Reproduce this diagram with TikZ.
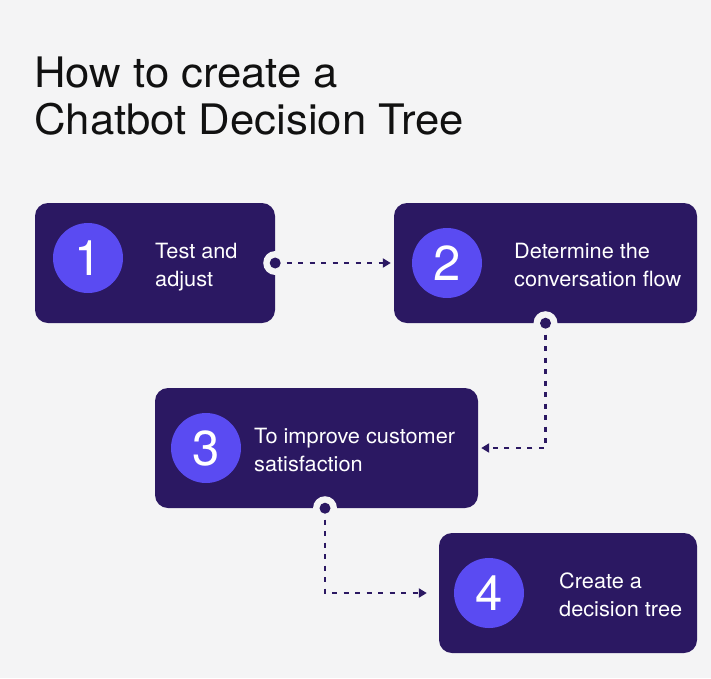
\documentclass[tikz,border=0pt]{standalone}
\usepackage{fontspec}
\setmainfont{TeX Gyre Heros}
\newfontfamily\titlefont[FakeStretch=1.04]{TeX Gyre Heros}
\newfontfamily\bodyfont[FakeStretch=1.035]{TeX Gyre Heros}
\usetikzlibrary{arrows.meta,calc}
\definecolor{bg}{HTML}{F4F4F5}
\definecolor{boxc}{HTML}{2B1862}
\definecolor{circc}{HTML}{5A4BF2}
\definecolor{titlec}{HTML}{111111}
\tikzset{
  stepbox/.style={draw=none,fill=boxc,rounded corners=13pt,minimum height=120pt,inner sep=0pt},
  numcirc/.style={circle,fill=circc,minimum size=70pt,inner sep=0pt,text=white,font=\fontsize{49}{49}\selectfont},
  steptext/.style={anchor=base west,align=left,text=white,inner sep=0pt,font=\bodyfont\fontsize{21}{28}\selectfont},
  ring/.style={circle,fill=bg,minimum size=24pt,inner sep=0pt},
  dotc/.style={circle,fill=boxc,minimum size=11pt,inner sep=0pt},
  conn/.style={draw=boxc,line width=2.4pt,dash pattern=on 5pt off 6.5pt,-{Triangle[length=8pt,width=9pt]}}
}
\begin{document}
\begin{tikzpicture}[x=1pt,y=-1pt]
\fill[bg] (0,0) rectangle (711,678);
\useasboundingbox (0,0) rectangle (711,678);
\node[anchor=base west,align=left,inner sep=0pt,text=titlec,font=\titlefont\fontsize{42}{47}\selectfont] (title) at (34,134) {How to create a\\Chatbot Decision Tree};
% boxes
\node[stepbox,minimum width=240pt] (b1) at (155,263) {};
\node[stepbox,minimum width=303pt] (b2) at (545.5,263) {};
\node[stepbox,minimum width=323pt] (b3) at (316.5,448) {};
\node[stepbox,minimum width=258pt] (b4) at (568,593) {};
% circles
\node[numcirc] (c1) at (88,258) {1};
\node[numcirc] (c2) at (447,263) {2};
\node[numcirc] (c3) at (206,448) {3};
\node[numcirc] (c4) at (489,593) {4};
% texts (base = last line baseline)
\node[steptext] (t1) at (155,286) {Test and\\adjust};
\node[steptext] (t2) at (514,286) {Determine the\\conversation flow};
\node[steptext] (t3) at (254,471) {To improve customer\\satisfaction};
\node[steptext] (t4) at (559,616) {Create a\\decision tree};
% connector dots
\node[ring] (r1) at (b1.east) {};
\node[ring] (r2) at (b2.south) {};
\node[ring] (r3) at ([xshift=8.5pt]b3.south) {};
\coordinate (d1) at (r1.center);
\coordinate (d2) at (r2.center);
\coordinate (d3) at (r3.center);
% connectors
\draw[conn,shorten >=3pt] (d1) -- (b2.west);
\draw[conn,shorten >=3pt] (d2) |- (b3.east);
\draw[conn,shorten >=12pt] (d3) |- (b4.west);
\node[dotc] (p1) at (d1) {};
\node[dotc] (p2) at (d2) {};
\node[dotc] (p3) at (d3) {};
\end{tikzpicture}
\end{document}
